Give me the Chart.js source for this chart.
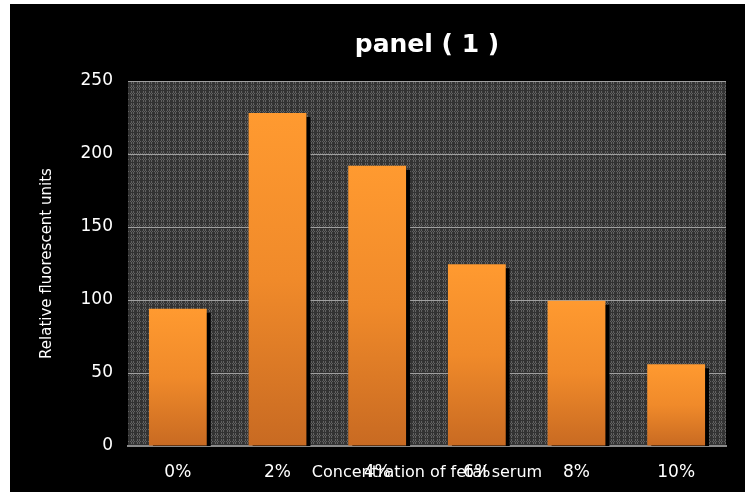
<!DOCTYPE html>
<html>
<head>
<meta charset="utf-8">
<script src="https://cdn.jsdelivr.net/npm/chart.js@4"></script>
<style>
  body { margin: 0; background: #fff; }
  #wrap { position: absolute; left: 10px; top: 4px; width: 735px; height: 488px; background: #000; }
</style>
</head>
<body>
<div id="wrap"><canvas id="panelChart"></canvas></div>
<script>
const categories = ['0%', '2%', '4%', '6%', '8%', '10%'];
const fluorescence = [94, 228, 192, 124.5, 99.5, 56];
const yTicks = [0, 50, 100, 150, 200, 250];

// dithered grey plaid look of the plot area
function makePattern(ctx) {
    const tile = document.createElement('canvas');
    tile.width = 6;
    tile.height = 6;
    const t = tile.getContext('2d');
    t.fillStyle = '#333';
    t.fillRect(0, 0, 6, 6);
    t.fillStyle = '#626262';
    t.fillRect(1, 0, 1, 2);
    t.fillRect(1, 3, 1, 2);
    t.fillRect(3, 0, 1, 2);
    t.fillRect(3, 3, 1, 2);
    t.fillRect(0, 5, 1, 1);
    t.fillRect(2, 5, 1, 1);
    t.fillRect(4, 5, 1, 1);
    return ctx.createPattern(tile, 'repeat');
}

const backdrop = {
    id: 'backdrop',
    beforeDraw(chart) {
        const { ctx, chartArea: a } = chart;
        ctx.save();
        ctx.fillStyle = '#000';
        ctx.fillRect(0, 0, chart.width, chart.height);
        ctx.fillStyle = makePattern(ctx);
        ctx.fillRect(a.left, a.top, a.right - a.left, a.bottom - a.top);
        ctx.restore();
    }
};

const barShadow = {
    id: 'barShadow',
    beforeDatasetDraw(chart) {
        const ctx = chart.ctx;
        ctx.save();
        ctx.shadowColor = '#000';
        ctx.shadowBlur = 0;
        ctx.shadowOffsetX = 4;
        ctx.shadowOffsetY = 4;
    },
    afterDatasetDraw(chart) {
        chart.ctx.restore();
    }
};

function barFill(context) {
    const chart = context.chart;
    const y = chart.scales.y;
    if (!chart.chartArea || !y || context.parsed === undefined) return '#f08a28';
    const top = y.getPixelForValue(context.parsed.y);
    const bottom = y.getPixelForValue(0);
    if (!isFinite(top) || !isFinite(bottom) || top === bottom) return '#f08a28';
    const g = chart.ctx.createLinearGradient(0, top, 0, bottom);
    g.addColorStop(0, '#ff9a30');
    g.addColorStop(0.5, '#f08a2a');
    g.addColorStop(1, '#c86a22');
    return g;
}

const ctx = document.getElementById('panelChart').getContext('2d');
const chart = new Chart(ctx, {
    type: 'bar',
    data: {
        labels: categories,
        datasets: [{
            data: fluorescence,
            backgroundColor: barFill,
            borderWidth: 0,
            barPercentage: 0.58,
            categoryPercentage: 1
        }]
    },
    options: {
        responsive: true,
        maintainAspectRatio: false,
        animation: false,
        layout: { padding: { left: 0, right: 19, top: 0, bottom: 0 } },
        plugins: {
            legend: { display: false },
            tooltip: { enabled: false },
            title: {
                display: true,
                text: 'panel ( 1 )',
                fullSize: false,
                color: '#fff',
                font: { family: 'DejaVu Sans', size: 25, weight: 'bold' },
                padding: { top: 26, bottom: 21 }
            }
        },
        scales: {
            x: {
                grid: { display: false, drawTicks: false },
                border: { display: true, color: '#8a8a8a', width: 2 },
                ticks: {
                    color: '#fff',
                    padding: 16,
                    font: { family: 'DejaVu Sans', size: 17 }
                },
                title: {
                    display: true,
                    text: 'Concentration of fetal serum',
                    color: '#fff',
                    font: { family: 'DejaVu Sans', size: 16 },
                    padding: { top: 0, bottom: 10 }
                },
                afterFit(scale) { scale.height = 46; }
            },
            y: {
                min: 0,
                max: 250,
                afterBuildTicks(scale) { scale.ticks = yTicks.map(v => ({ value: v })); },
                grid: { color: '#a0a0a0', lineWidth: 1, drawTicks: false },
                border: { display: false },
                ticks: {
                    color: '#fff',
                    padding: 15,
                    font: { family: 'DejaVu Sans', size: 17 }
                },
                title: {
                    display: true,
                    text: 'Relative fluorescent units',
                    color: '#fff',
                    font: { family: 'DejaVu Sans', size: 15 },
                    padding: { top: 28, bottom: 0 }
                },
                afterFit(scale) { scale.width = 118; }
            }
        }
    },
    plugins: [backdrop, barShadow]
});
</script>
</body>
</html>
